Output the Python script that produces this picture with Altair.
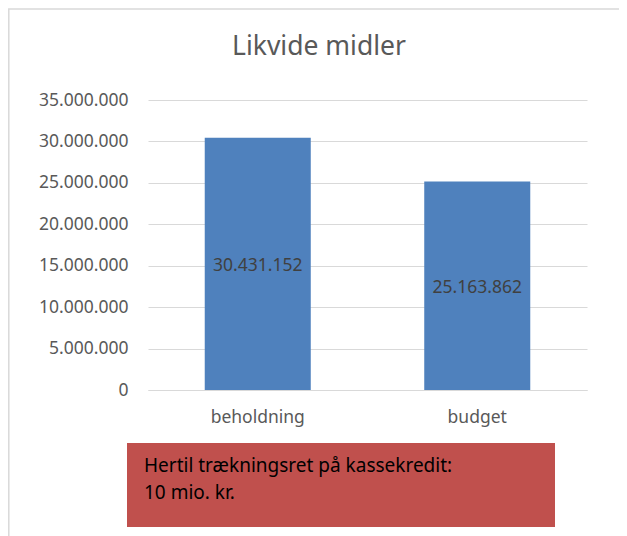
import altair as alt
import pandas as pd

# ---- data ----
CATEGORIES = ["beholdning", "budget"]
VALUES = [30431152, 25163862]
TITLE = "Likvide midler"
NOTE_LINES = ["Hertil trækningsret på kassekredit:", "10 mio. kr."]
Y_TICKS = [0, 5000000, 10000000, 15000000, 20000000, 25000000, 30000000, 35000000]

FONT = "Noto Sans"
BAR_COLOR = "#4F81BD"
NOTE_COLOR = "#C0504D"
GRID = "#D9D9D9"

df = pd.DataFrame({"cat": CATEGORIES, "value": VALUES})
one = pd.DataFrame({"k": [0]})

W, H = 439, 290

base = alt.Chart(df)

frame = alt.Chart(one).mark_rect(filled=False, stroke=GRID, strokeWidth=1.5).encode(
    x=alt.value(-139.2), x2=alt.value(W + 60), y=alt.value(-91), y2=alt.value(H + 200)
)

title = alt.Chart(one).mark_text(
    font=FONT, fontSize=26.5, color="#595959", align="center", baseline="alphabetic"
).encode(x=alt.value(171), y=alt.value(-45), text=alt.value(TITLE))

bars = base.mark_bar(color=BAR_COLOR).encode(
    x=alt.X("cat:N", sort=CATEGORIES, title=None,
            scale=alt.Scale(paddingInner=0.517, paddingOuter=0.2585),
            axis=alt.Axis(labelAngle=0, labelFont=FONT, labelFontSize=17.5,
                          labelColor="#595959", labelPadding=18, ticks=False,
                          domain=True, domainColor=GRID)),
    y=alt.Y("value:Q", title=None,
            scale=alt.Scale(domain=[0, 35000000], nice=False),
            axis=alt.Axis(values=Y_TICKS, format=",d", labelFont=FONT,
                          labelFontSize=17.5, labelColor="#595959",
                          labelPadding=20, ticks=False, domain=False,
                          gridColor=GRID, gridWidth=1)),
)

labels = base.transform_calculate(mid="datum.value / 2").mark_text(
    font=FONT, fontSize=17.5, color="#404040", baseline="middle", dy=2
).encode(
    x=alt.X("cat:N", sort=CATEGORIES),
    y=alt.Y("mid:Q"),
    text=alt.Text("value:Q", format=",d"),
)

note_box = alt.Chart(one).mark_rect(fill=NOTE_COLOR).encode(
    x=alt.value(-21), x2=alt.value(407), y=alt.value(343), y2=alt.value(427)
)

note_text = alt.Chart(one).mark_text(
    font=FONT, fontSize=19, color="#000000", align="left",
    baseline="alphabetic", lineHeight=27
).encode(
    x=alt.value(-4), y=alt.value(372), text=alt.value(NOTE_LINES)
)

chart = alt.layer(frame, title, bars, labels, note_box, note_text).properties(
    width=W, height=H,
    autosize=alt.AutoSizeParams(type="none"),
    padding={"left": 140, "top": 92, "right": 32, "bottom": 150},
).configure(
    locale={"number": {"decimal": ",", "thousands": ".", "grouping": [3],
                       "currency": ["", " kr."]}}
).configure_view(stroke=None)

chart.save("out.html", embed_options={"renderer": "svg", "actions": False})
